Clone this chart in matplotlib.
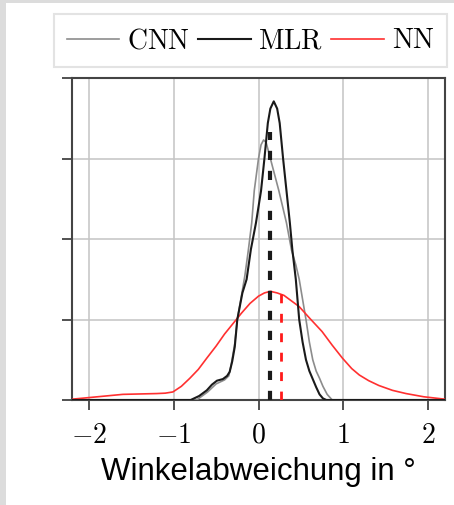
import matplotlib
matplotlib.use("Agg")
import matplotlib.pyplot as plt
from matplotlib.patches import Rectangle

plt.rcParams['mathtext.fontset'] = 'cm'

# curve points (x in degrees, density)
cnn_x = [-2.2, -0.73, -0.6, -0.5, -0.4, -0.35, -0.32, -0.28, -0.25, -0.2, -0.16, -0.12,
         -0.08, -0.05, 0.0, 0.03, 0.06, 0.09, 0.14, 0.24, 0.33, 0.39, 0.44, 0.48, 0.52,
         0.56, 0.6, 0.64, 0.68, 0.72, 0.76, 0.81, 0.87, 2.2]
cnn_y = [0.0, 0.0, 0.1, 0.2, 0.25, 0.3, 0.45, 0.7, 1.0, 1.3, 1.55, 1.86,
         2.2, 2.6, 3.0, 3.17, 3.23, 3.2, 3.0, 2.6, 2.2, 1.86, 1.68, 1.5, 1.25,
         1.0, 0.72, 0.5, 0.36, 0.27, 0.17, 0.07, 0.0, 0.0]

mlr_x = [-2.2, -0.8, -0.7, -0.61, -0.55, -0.49, -0.42, -0.37, -0.34, -0.31, -0.28, -0.25,
         -0.19, -0.14, -0.09, -0.03, 0.03, 0.07, 0.11, 0.14, 0.18, 0.22, 0.25, 0.29,
         0.33, 0.37, 0.40, 0.44, 0.48, 0.52, 0.56, 0.6, 0.64, 0.68, 0.72, 0.76, 0.8, 2.2]
mlr_y = [0.0, 0.0, 0.05, 0.12, 0.19, 0.24, 0.26, 0.3, 0.35, 0.48, 0.66, 1.0,
         1.33, 1.5, 1.87, 2.2, 2.6, 3.0, 3.44, 3.62, 3.71, 3.62, 3.44, 3.0,
         2.6, 2.2, 1.86, 1.5, 1.0, 0.72, 0.5, 0.36, 0.26, 0.16, 0.07, 0.02, 0.0, 0.0]

nn_x = [-2.2, -2.0, -1.8, -1.6, -1.4, -1.2, -1.1, -1.01, -0.91, -0.81, -0.71, -0.61,
        -0.5, -0.4, -0.3, -0.2, -0.1, 0.0, 0.07, 0.14, 0.22, 0.3, 0.48, 0.6, 0.75,
        0.87, 0.99, 1.1, 1.19, 1.3, 1.42, 1.58, 1.74, 1.95, 2.2]
nn_y = [0.01, 0.03, 0.05, 0.07, 0.075, 0.08, 0.085, 0.1, 0.17, 0.27, 0.38, 0.52,
        0.67, 0.82, 0.95, 1.08, 1.2, 1.29, 1.33, 1.35, 1.33, 1.3, 1.16, 1.02, 0.85,
        0.68, 0.52, 0.39, 0.31, 0.24, 0.18, 0.12, 0.08, 0.04, 0.01]

# medians (dashed markers)
mlr_median = 0.13
mlr_median_height = 3.33
nn_median = 0.267
nn_median_height = 1.32

x_ticks = [-2, -1, 0, 1, 2]
y_ticks = [0, 1, 2, 3, 4]

fig = plt.figure(figsize=(4.54, 5.05), dpi=100)
fig.patch.set_facecolor('#dcdcdc')
fig.patches.append(Rectangle((6 / 454, 0), 1, 1 - 3 / 505, transform=fig.transFigure,
                             facecolor='white', edgecolor='none', zorder=-10))

ax = fig.add_axes([72 / 454, 1 - 400 / 505, (445 - 72) / 454, (400 - 78) / 505])

ax.plot(cnn_x, cnn_y, color='#8c8c8c', lw=1.2, label=r'$\mathrm{CNN}$', zorder=3)
ax.plot(mlr_x, mlr_y, color='#1a1a1a', lw=1.5, label=r'$\mathrm{MLR}$', zorder=4)
ax.plot(nn_x, nn_y, color='#ff3030', lw=1.2, label=r'$\mathrm{NN}$', zorder=3)

ax.plot([mlr_median, mlr_median], [0, mlr_median_height], color='#1a1a1a', lw=3,
        dashes=(2.2, 2.6), zorder=5)
ax.plot([nn_median, nn_median], [0, nn_median_height], color='#ff1a1a', lw=2,
        dashes=(3.2, 3.8), zorder=5)

ax.set_xlim(-2.2, 2.2)
ax.set_ylim(0, 4)
ax.set_xticks(x_ticks)
ax.set_xticklabels([r'$%d$' % t if t >= 0 else r'$-%d$' % abs(t) for t in x_ticks],
                   fontsize=20)
ax.set_yticks(y_ticks)
ax.set_yticklabels([])
ax.tick_params(axis='both', direction='out', length=7, width=1.2, color='#333333')
ax.tick_params(axis='x', pad=8)
ax.grid(True, color='#c4c4c4', lw=1.1)
ax.set_axisbelow(True)
for sp in ax.spines.values():
    sp.set_color('#444444')
    sp.set_linewidth(1.5)

ax.set_xlabel('Winkelabweichung in °', fontsize=22.5, family='Liberation Sans', labelpad=6)

leg = fig.legend(loc='upper left', bbox_to_anchor=(54 / 454, 1 - 14 / 505), ncol=3,
                 fontsize=20, handlelength=1.9, handletextpad=0.28, columnspacing=0.28,
                 frameon=True, fancybox=False, borderpad=0.45, borderaxespad=0)
leg.get_frame().set_edgecolor('#dddddd')
leg.get_frame().set_linewidth(1.5)

fig.savefig('out.png', dpi=100, facecolor=fig.get_facecolor())
